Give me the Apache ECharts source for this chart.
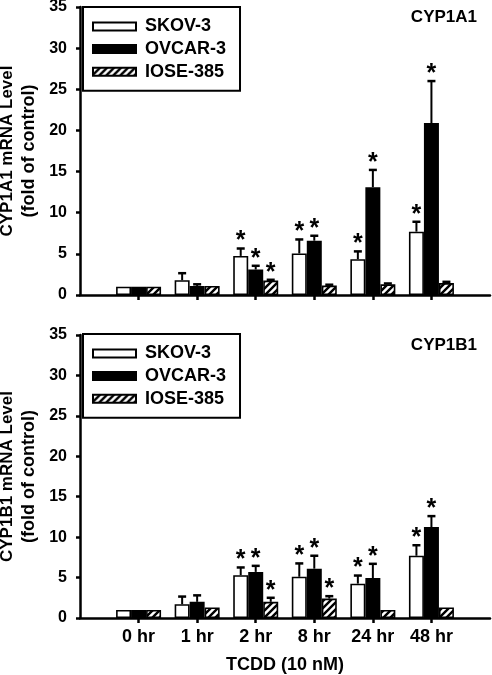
<!DOCTYPE html>
<html><head><meta charset="utf-8">
<script src="https://cdn.jsdelivr.net/npm/echarts@6/dist/echarts.min.js"></script>
<style>html,body{margin:0;padding:0;background:#fff}#c{width:492px;height:675px}</style>
</head><body><div id="c"></div>
<script>
// ---- data ----
const categories = ['0 hr', '1 hr', '2 hr', '8 hr', '24 hr', '48 hr'];
const seriesNames = ['SKOV-3', 'OVCAR-3', 'IOSE-385'];
const panelTitles = ['CYP1A1', 'CYP1B1'];
const yAxisTitles = ['CYP1A1 mRNA Level', 'CYP1B1 mRNA Level'];
const yAxisSubtitle = '(fold of control)';
const xAxisTitle = 'TCDD (10 nM)';

// CYP1A1
const a1_skov = [1.0, 1.8, 4.75, 5.05, 4.35, 7.7];
const a1_skov_err = [0, 0.85, 0.9, 1.7, 0.95, 1.2];
const a1_ovcar = [1.0, 1.1, 3.1, 6.6, 13.1, 20.9];
const a1_ovcar_err = [0, 0.2, 0.45, 0.6, 2.1, 5.1];
const a1_iose = [1.0, 1.1, 1.75, 1.15, 1.3, 1.45];
const a1_iose_err = [0, 0, 0.1, 0.1, 0.1, 0.15];
const a1_skov_sig = [0, 0, 1, 1, 1, 1];
const a1_ovcar_sig = [0, 0, 1, 1, 1, 1];
const a1_iose_sig = [0, 0, 1, 0, 0, 0];

// CYP1B1
const b1_skov = [1.0, 1.7, 5.3, 5.1, 4.25, 7.7];
const b1_skov_err = [0, 0.95, 0.95, 1.65, 1.0, 1.3];
const b1_ovcar = [1.0, 2.0, 5.7, 6.1, 4.95, 11.25];
const b1_ovcar_err = [0, 0.8, 0.75, 1.6, 1.75, 1.35];
const b1_iose = [1.0, 1.3, 2.0, 2.4, 1.0, 1.3];
const b1_iose_err = [0, 0, 0.5, 0.3, 0, 0];
const b1_skov_sig = [0, 0, 1, 1, 1, 1];
const b1_ovcar_sig = [0, 0, 1, 1, 1, 1];
const b1_iose_sig = [0, 0, 1, 1, 0, 0];

const yMin = 0, yMax = 35, yStep = 5;

// ---- build ----
const FONT = '"Liberation Sans", Arial, Helvetica, sans-serif';
const cats = [''].concat(categories, ['']);
const pad = a => ['-'].concat(a, ['-']);

function hatchPattern() {
  const s = 7, c = document.createElement('canvas');
  c.width = s; c.height = s;
  const g = c.getContext('2d');
  g.fillStyle = '#fff'; g.fillRect(0, 0, s, s);
  g.strokeStyle = '#000'; g.lineWidth = 2.4; g.beginPath();
  g.moveTo(-1, s + 1); g.lineTo(s + 1, -1);
  g.moveTo(-s, s); g.lineTo(s, -s);
  g.moveTo(0, 2 * s); g.lineTo(2 * s, 0);
  g.stroke();
  return c;
}
const fills = ['#ffffff', '#000000', { image: hatchPattern(), repeat: 'repeat' }];

const panels = [
  { vals: [a1_skov, a1_ovcar, a1_iose], errs: [a1_skov_err, a1_ovcar_err, a1_iose_err], sig: [a1_skov_sig, a1_ovcar_sig, a1_iose_sig] },
  { vals: [b1_skov, b1_ovcar, b1_iose], errs: [b1_skov_err, b1_ovcar_err, b1_iose_err], sig: [b1_skov_sig, b1_ovcar_sig, b1_iose_sig] }
];

const BW = 15;
const series = [];
panels.forEach((p, g) => {
  seriesNames.forEach((nm, i) => {
    series.push({
      type: 'bar', name: nm, xAxisIndex: g, yAxisIndex: g,
      data: pad(p.vals[i]), barWidth: BW, barGap: '0%',
      itemStyle: { color: fills[i], borderColor: '#000', borderWidth: 1.6 },
      z: 2, silent: true
    });
  });
  seriesNames.forEach((nm, i) => {
    const rows = categories.map((c, k) => [k + 1, p.vals[i][k], p.errs[i][k], p.sig[i][k]]);
    series.push({
      type: 'custom', xAxisIndex: g, yAxisIndex: g, data: rows, z: 3, silent: true,
      renderItem: (params, api) => {
        const idx = api.value(0), v = api.value(1), e = api.value(2), s = api.value(3);
        const x = api.coord([idx, 0])[0] + (i - 1) * BW;
        const yTop = api.coord([idx, v])[1];
        const yErr = api.coord([idx, v + e])[1];
        const children = [];
        if (e > 0) {
          children.push({ type: 'line', shape: { x1: x, y1: yTop, x2: x, y2: yErr }, style: { stroke: '#000', lineWidth: 2 } });
          children.push({ type: 'line', shape: { x1: x - 4, y1: yErr, x2: x + 4, y2: yErr }, style: { stroke: '#000', lineWidth: 2.5 } });
        }
        if (s) {
          children.push({ type: 'text', x: x, y: yErr - 7, style: { text: '*', fill: '#000', font: 'bold 25px ' + FONT, align: 'center', verticalAlign: 'middle' } });
        }
        return { type: 'group', children };
      }
    });
  });
});

const grids = [
  { left: 80, right: 2, top: 7, height: 288, containLabel: false, outerBoundsMode: 'none' },
  { left: 80, right: 2, top: 335, height: 283, containLabel: false, outerBoundsMode: 'none' }
];

const xAxes = grids.map((gr, g) => ({
  type: 'category', gridIndex: g, data: cats, boundaryGap: false,
  axisLine: { lineStyle: { color: '#000', width: 2.5 } },
  axisTick: { show: true, length: 5, lineStyle: { color: '#000', width: 2.5 }, interval: (k) => k > 0 && k < cats.length - 1 },
  axisLabel: { show: g === 1, interval: 0, margin: 10, color: '#000', fontSize: 18, fontWeight: 'bold', fontFamily: FONT },
  splitLine: { show: false },
  name: g === 1 ? xAxisTitle : '', nameLocation: 'middle', nameGap: 38, nameMoveOverlap: false,
  nameTextStyle: { color: '#000', fontSize: 18, fontWeight: 'bold', fontFamily: FONT }
}));

const yAxes = grids.map((gr, g) => ({
  type: 'value', gridIndex: g, min: yMin, max: yMax, interval: yStep,
  axisLine: { show: true, lineStyle: { color: '#000', width: 2.5 } },
  axisTick: { show: true, length: 4, lineStyle: { color: '#000', width: 2.5 } },
  axisLabel: { margin: 13, color: '#000', fontSize: 16, fontWeight: 'bold', fontFamily: FONT },
  splitLine: { show: false },
  name: '{a|' + yAxisTitles[g] + '}\n{b|' + yAxisSubtitle + '}',
  nameLocation: 'middle', nameRotate: 90, nameGap: 40, nameMoveOverlap: false,
  nameTextStyle: {
    color: '#000', fontFamily: FONT, fontWeight: 'bold', fontSize: 17, lineHeight: 22,
    rich: {
      a: { color: '#000', fontFamily: FONT, fontWeight: 'bold', fontSize: 17, lineHeight: 22 },
      b: { color: '#000', fontFamily: FONT, fontWeight: 'bold', fontSize: 18, lineHeight: 22 }
    }
  }
}));

const legends = [7, 334].map(top => ({
  orient: 'vertical', left: 83, top: top, data: seriesNames, icon: 'rect',
  itemWidth: 43, itemHeight: 8, itemGap: 4.6, padding: [10.5, 14, 10, 9],
  borderColor: '#000', borderWidth: 2, selectedMode: false,
  textStyle: { color: '#000', fontSize: 18, fontWeight: 'bold', fontFamily: FONT, padding: [0, 0, 0, 4] }
}));

const titles = [
  { text: panelTitles[0], right: 15, top: 9, padding: 0, textStyle: { color: '#000', fontSize: 17, fontWeight: 'bold', fontFamily: FONT } },
  { text: panelTitles[1], right: 15, top: 337, padding: 0, textStyle: { color: '#000', fontSize: 17, fontWeight: 'bold', fontFamily: FONT } }
];

const chart = echarts.init(document.getElementById('c'), null, { renderer: 'canvas' });
chart.setOption({
  animation: false,
  backgroundColor: '#fff',
  title: titles,
  legend: legends,
  grid: grids,
  xAxis: xAxes,
  yAxis: yAxes,
  series: series
});
</script>
</body></html>
